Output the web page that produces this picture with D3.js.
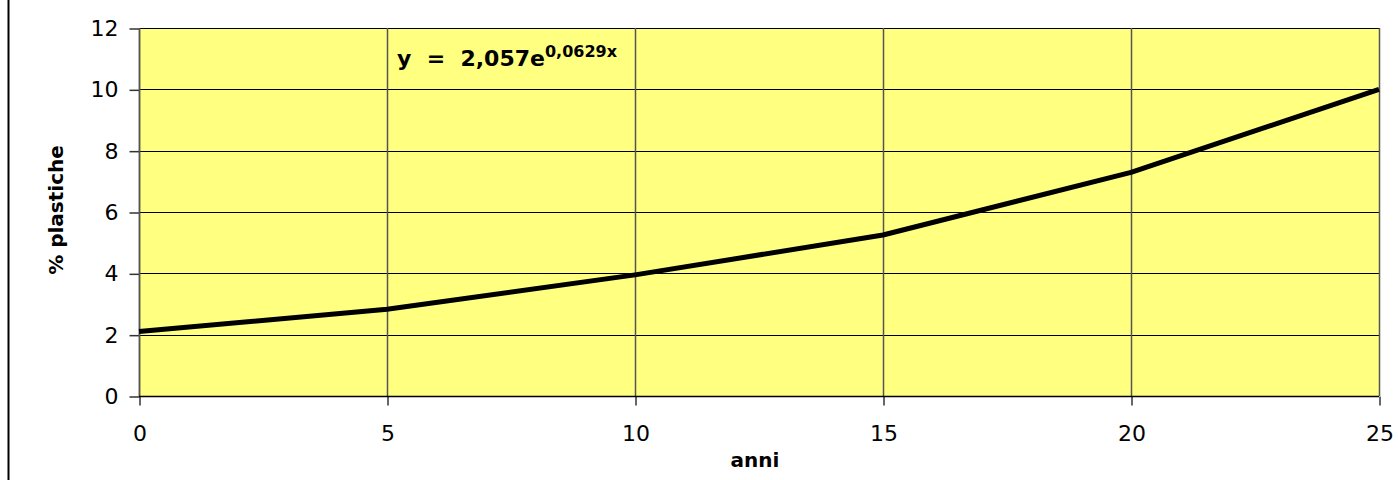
<!DOCTYPE html>
<html>
<head>
<meta charset="utf-8">
<script src="https://cdn.jsdelivr.net/npm/d3@7"></script>
<style>
  html, body { margin: 0; padding: 0; background: #fff; }
  svg { display: block; font-family: "DejaVu Sans", Verdana, sans-serif; }
</style>
</head>
<body>
<svg id="chart" width="1398" height="480"></svg>
<script>
// Plastic share over the years, with exponential fit
const years = [0, 5, 10, 15, 20, 25];
const plasticPct = [2.1, 2.83, 3.95, 5.25, 7.29, 10.0];
const xTicks = [0, 5, 10, 15, 20, 25];
const yTicks = [0, 2, 4, 6, 8, 10, 12];
const xTitle = "anni";
const yTitle = "% plastiche";
const fitMain = "y  =  2,057e";
const fitExp = "0,0629x";

const svg = d3.select("#chart");
const W = 1398, H = 480;
const plot = { left: 139, top: 28, right: 1379, bottom: 396 };

const x = d3.scaleLinear().domain([0, 25]).range([plot.left, plot.right]);
const y = d3.scaleLinear().domain([0, 12]).range([plot.bottom, plot.top]);

// outer frame edge on the left
svg.append("line")
  .attr("x1", 8.5).attr("x2", 8.5).attr("y1", 0).attr("y2", H)
  .attr("stroke", "#000").attr("stroke-width", 2);

// plot background
svg.append("rect")
  .attr("x", plot.left).attr("y", plot.top)
  .attr("width", plot.right - plot.left).attr("height", plot.bottom - plot.top)
  .attr("fill", "#ffff80");

// horizontal gridlines
svg.append("g").selectAll("line").data(yTicks).join("line")
  .attr("x1", plot.left).attr("x2", plot.right)
  .attr("y1", d => Math.round(y(d)) + 0.5).attr("y2", d => Math.round(y(d)) + 0.5)
  .attr("stroke", "#000").attr("stroke-width", 1.2);

// vertical gridlines
svg.append("g").selectAll("line").data(xTicks).join("line")
  .attr("x1", d => Math.round(x(d)) + 0.5).attr("x2", d => Math.round(x(d)) + 0.5)
  .attr("y1", plot.top).attr("y2", plot.bottom)
  .attr("stroke", "#555").attr("stroke-width", 1.5);

// axes
const yAxis = d3.axisLeft(y).tickValues(yTicks).tickSize(10).tickPadding(11).tickFormat(d3.format("d"));
const xAxis = d3.axisBottom(x).tickValues(xTicks).tickSize(9).tickPadding(20).tickFormat(d3.format("d"));

const gy = svg.append("g").attr("transform", `translate(${plot.left + 0.5},0.5)`).call(yAxis);
const gx = svg.append("g").attr("transform", `translate(0.5,${plot.bottom + 0.5})`).call(xAxis);
[gy, gx].forEach(g => {
  g.attr("font-size", null).attr("font-family", null);
  g.select(".domain").remove();
  g.selectAll(".tick line").attr("stroke", "#333").attr("stroke-width", 1.5);
  g.selectAll(".tick text").attr("fill", "#000")
    .style("font-family", "'DejaVu Sans', Verdana, sans-serif").style("font-size", "22px");
});
// x tick lines stay short while labels sit lower
gx.selectAll(".tick line").attr("y2", 9);

// plot border
svg.append("line").attr("x1", plot.left + 0.5).attr("x2", plot.left + 0.5)
  .attr("y1", plot.top).attr("y2", plot.bottom + 1).attr("stroke", "#555").attr("stroke-width", 1.5);
svg.append("line").attr("x1", plot.left).attr("x2", plot.right)
  .attr("y1", plot.bottom + 0.5).attr("y2", plot.bottom + 0.5).attr("stroke", "#000").attr("stroke-width", 1.5);

// data line
const line = d3.line().x((d, i) => x(years[i])).y(d => y(d));
svg.append("path")
  .datum(plasticPct)
  .attr("d", line)
  .attr("fill", "none")
  .attr("stroke", "#000")
  .attr("stroke-width", 5)
  .attr("stroke-linejoin", "round");

// axis titles
svg.append("text")
  .attr("x", 755).attr("y", 467)
  .attr("text-anchor", "middle")
  .style("font-size", "20px").style("font-weight", "bold")
  .text(xTitle);

svg.append("text")
  .attr("transform", "translate(63,210) rotate(-90)")
  .attr("text-anchor", "middle")
  .style("font-size", "20px").style("font-weight", "bold")
  .text(yTitle);

// fitted equation
const eq = svg.append("text")
  .attr("x", 397).attr("y", 66)
  .attr("xml:space", "preserve")
  .style("font-size", "22px").style("font-weight", "bold")
  .style("white-space", "pre");
eq.append("tspan").text(fitMain);
eq.append("tspan").attr("dy", -9).style("font-size", "16px").text(fitExp);
</script>
</body>
</html>
